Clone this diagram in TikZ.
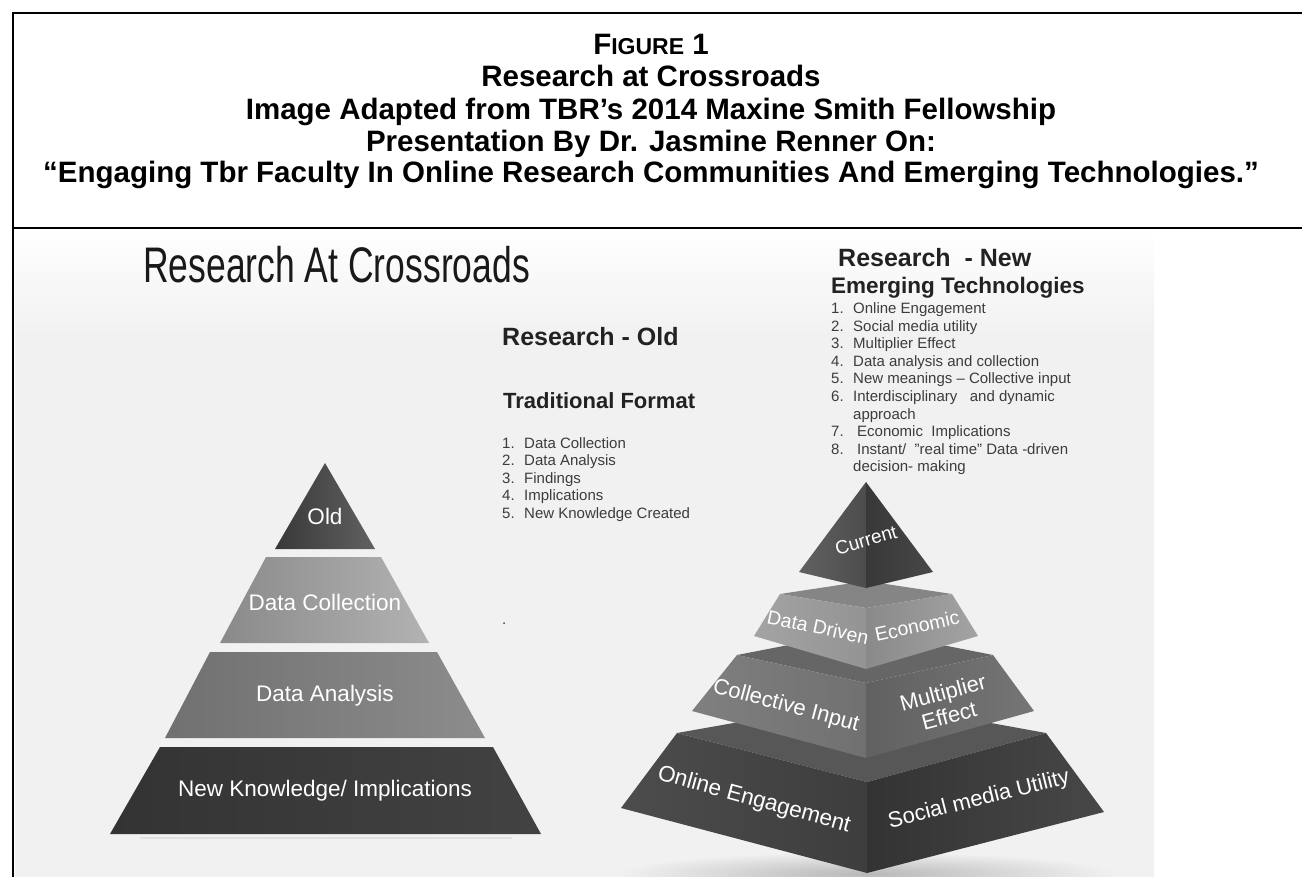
\documentclass[tikz,border=0pt]{standalone}
\usepackage{fontspec}
\setmainfont{Liberation Sans}
\usetikzlibrary{calc}
\definecolor{bgg}{HTML}{F1F1F1}
\definecolor{txtd}{HTML}{222222}
\definecolor{txtl}{HTML}{3C3C3C}
\begin{document}
\begin{tikzpicture}[x=1pt,y=-1pt,
  frame/.style={line width=2.5pt, draw=black},
  ttl/.style={anchor=base, inner sep=0, font=\bfseries\fontsize{29.5}{32}\selectfont},
  shead/.style={anchor=base west, inner sep=0, text=txtd, font=\bfseries\fontsize{25}{28}\selectfont},
  ssub/.style={anchor=base west, inner sep=0, text=txtd, font=\bfseries\fontsize{22.5}{26}\selectfont},
  litem/.style={anchor=base west, inner sep=0, text=txtl, font=\fontsize{15}{17}\selectfont},
  plbl/.style={text=white, inner sep=0, font=\fontsize{22.5}{24}\selectfont},
  rlbl/.style={text=white, inner sep=0, font=\fontsize{19.5}{21}\selectfont},
  rlblb/.style={text=white, inner sep=0, font=\fontsize{22}{24}\selectfont, align=center},
  face/.style={draw=none}
]
\useasboundingbox (0,0) rectangle (1302,877);
\fill[white] (0,0) rectangle (1302,877);

% ---------- embedded slide background ----------
\fill[bgg] (15,229) rectangle (1154,877);
\shade[top color=white, bottom color=bgg] (15,229) rectangle (1154,335);

% ---------- frame ----------
\coordinate (ftl) at (13,13);
\coordinate (ftr) at (1302,13);
\coordinate (fbl) at (13,877);
\coordinate (fsl) at (13,228);
\coordinate (fsr) at (1302,228);
\draw[frame] (ftr) -- (ftl) -- (fbl);
\draw[frame] (fsl) -- (fsr);

% ---------- title ----------
\node[ttl] (t1) at (651,55) {F{\fontsize{23}{32}\selectfont IGURE} 1};
\node[ttl] (t2) at (651,87) {Research at Crossroads};
\node[ttl] (t3) at (651,120) {Image Adapted from TBR’s 2014 Maxine Smith Fellowship};
\node[ttl] (t4) at (651,152) {Presentation By Dr. Jasmine Renner On:};
\node[ttl] (t5) at (651,183) {“Engaging Tbr Faculty In Online Research Communities And Emerging Technologies.”};

% ---------- slide heading ----------
\node[anchor=base west, inner sep=0, text=black!90] (head) at (143,283)
  {\scalebox{0.71}[1]{\fontsize{50}{50}\selectfont Research At Crossroads}};

% ---------- middle text ----------
\node[shead] (rold) at (502,346) {Research - Old};
\node[ssub, font=\bfseries\fontsize{22}{26}\selectfont] (trad) at (503,409) {Traditional Format};
\node[litem] (ln1) at (502,448) {1.};  \node[litem] (lt1) at (524,448) {Data Collection};
\node[litem] (ln2) at (502,465.5) {2.};  \node[litem] (lt2) at (524,465.5) {Data Analysis};
\node[litem] (ln3) at (502,483) {3.};  \node[litem] (lt3) at (524,483) {Findings};
\node[litem] (ln4) at (502,500.5) {4.};  \node[litem] (lt4) at (524,500.5) {Implications};
\node[litem] (ln5) at (502,518) {5.};  \node[litem] (lt5) at (524,518) {New Knowledge Created};
\node[litem] (dot) at (502,624) {.};

% ---------- right text ----------
\node[shead] (rnew) at (838,267) {Research\ \ - New};
\node[ssub] (emer) at (831,294) {Emerging Technologies};
\node[litem] (rn1) at (831,314) {1.}; \node[litem] (rt1) at (853,314) {Online Engagement};
\node[litem] (rn2) at (831,331.5) {2.}; \node[litem] (rt2) at (853,331.5) {Social media utility};
\node[litem] (rn3) at (831,349) {3.}; \node[litem] (rt3) at (853,349) {Multiplier\ Effect};
\node[litem] (rn4) at (831,366.5) {4.}; \node[litem] (rt4) at (853,366.5) {Data analysis and collection};
\node[litem] (rn5) at (831,384) {5.}; \node[litem] (rt5) at (853,384) {New meanings – Collective input};
\node[litem] (rn6) at (831,401.5) {6.}; \node[litem] (rt6) at (853,401.5) {Interdisciplinary\ \ \ and dynamic};
\node[litem] (rt6b) at (853,419) {approach};
\node[litem] (rn7) at (831,436.5) {7.}; \node[litem] (rt7) at (857,436.5) {Economic\ \ Implications};
\node[litem] (rn8) at (831,454) {8.}; \node[litem] (rt8) at (857,454) {Instant/\ \ "real time" Data -driven};
\node[litem] (rt8b) at (853,471.5) {decision- making};

% ---------- left pyramid ----------
\draw[black!12, line width=2pt] (140,838) -- (512,838);
\shade[left color=black!78, right color=black!62] (325,463) -- (375,549) -- (275,549) -- cycle;
\shade[left color=black!46, right color=black!30] (266,557) -- (381,557) -- (429,643) -- (220,643) -- cycle;
\shade[left color=black!56, right color=black!45] (210,652) -- (437,652) -- (485,738) -- (165,738) -- cycle;
\shade[left color=black!80, right color=black!74] (160,747) -- (493,747) -- (541,834) -- (110,834) -- cycle;
\node[plbl] (old) at (325,516) {Old};
\node[plbl] (dcol) at (325,602) {Data Collection};
\node[plbl] (dana) at (325,696) {Data Analysis};
\node[plbl] (nkno) at (325,791) {New Knowledge/ Implications};

% ---------- right pyramid ----------
\shade[inner color=black!28, outer color=bgg] (866,874) ellipse [x radius=250, y radius=22];
% base tier
\coordinate (BTL) at (677,733); \coordinate (BTB) at (864,700);
\coordinate (BTR) at (1046,733); \coordinate (BTF) at (867,782);
\coordinate (BBL) at (621,808); \coordinate (BBF) at (867,873); \coordinate (BBR) at (1104,812);
\fill[black!66] (BTL) -- (BTB) -- (BTR) -- (BTF) -- cycle;
\shade[left color=black!70, right color=black!76] (BTL) -- (BTF) -- (BBF) -- (BBL) -- cycle;
\shade[left color=black!80, right color=black!72] (BTF) -- (BTR) -- (BBR) -- (BBF) -- cycle;
% collective tier
\coordinate (KTL) at (737,655); \coordinate (KTB) at (866,630);
\coordinate (KTR) at (993,655); \coordinate (KTF) at (866,683);
\coordinate (KBL) at (692,711); \coordinate (KBF) at (866,758); \coordinate (KBR) at (1034,711);
\fill[black!60] (KTL) -- (KTB) -- (KTR) -- (KTF) -- cycle;
\shade[left color=black!50, right color=black!56] (KTL) -- (KTF) -- (KBF) -- (KBL) -- cycle;
\shade[left color=black!62, right color=black!54] (KTF) -- (KTR) -- (KBR) -- (KBF) -- cycle;
% data driven tier
\coordinate (DTL) at (780,594); \coordinate (DTB) at (866,581);
\coordinate (DTR) at (952,594); \coordinate (DTF) at (866,608);
\coordinate (DBL) at (754,636); \coordinate (DBF) at (866,669); \coordinate (DBR) at (978,636);
\fill[black!48] (DTL) -- (DTB) -- (DTR) -- (DTF) -- cycle;
\shade[left color=black!36, right color=black!42] (DTL) -- (DTF) -- (DBF) -- (DBL) -- cycle;
\shade[left color=black!46, right color=black!36] (DTF) -- (DTR) -- (DBR) -- (DBF) -- cycle;
% current
\coordinate (CA) at (866,482);
\coordinate (CL) at (799,572); \coordinate (CF) at (866,588); \coordinate (CR) at (933,572);
\shade[left color=black!62, right color=black!70] (CA) -- (CL) -- (CF) -- cycle;
\shade[left color=black!78, right color=black!72] (CA) -- (CF) -- (CR) -- cycle;

\node[rlbl, font=\fontsize{19}{21}\selectfont, rotate=16] (cur) at (866,540) {Current};
\node[rlbl, rotate=-12] (ddrv) at (818,627) {Data Driven};
\node[rlbl, rotate=12] (econ) at (917,626) {Economic};
\node[rlblb, rotate=-15] (coll) at (786,706) {Collective Input};
\node[rlblb, rotate=15] (mult) at (946,704) {Multiplier\\Effect};
\node[rlblb, font=\fontsize{22.5}{24}\selectfont, rotate=-15.5] (onl) at (754,800) {Online Engagement};
\node[rlblb, rotate=14] (soc) at (979,800) {Social media Utility};
\end{tikzpicture}
\end{document}
